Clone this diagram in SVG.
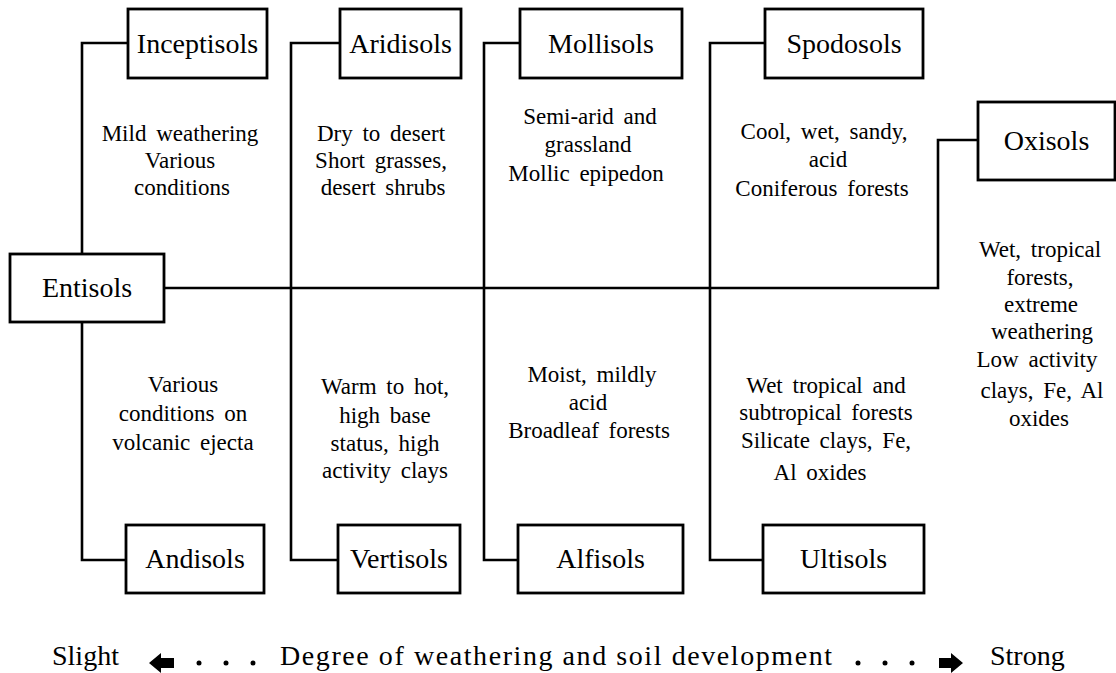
<svg xmlns="http://www.w3.org/2000/svg" width="1116" height="673" viewBox="0 0 1116 673">
<style>
.box{fill:#fff;stroke:#000;stroke-width:2.8}
.lbl{font-family:"Liberation Serif",serif;font-size:28px;text-anchor:middle;fill:#000}
.desc{font-family:"Liberation Serif",serif;font-size:23px;text-anchor:middle;fill:#000;word-spacing:4px}
.con{fill:none;stroke:#000;stroke-width:2.6}
.axis{font-family:"Liberation Serif",serif;font-size:28px;fill:#000}
</style>
<rect width="1116" height="673" fill="#fff"/>
<g id="connectors">
<path class="con" d="M128,43 H82 V254"/>
<path class="con" d="M82,322 V560 H126"/>
<path class="con" d="M340,43 H291 V560 H338"/>
<path class="con" d="M520,43 H484 V560 H518"/>
<path class="con" d="M765,43 H710 V560 H763"/>
<path class="con" d="M164,288 H938 V140 H978"/>
</g>
<g id="entisols"><rect class="box" x="10" y="254" width="154" height="68"/><text class="lbl" x="87" y="297">Entisols</text></g>
<g id="inceptisols"><rect class="box" x="128" y="9" width="139" height="69"/><text class="lbl" x="197.5" y="53">Inceptisols</text>
<text class="desc"><tspan x="180" y="141">Mild weathering</tspan><tspan x="180" y="168">Various</tspan><tspan x="182" y="195">conditions</tspan></text></g>
<g id="aridisols"><rect class="box" x="340" y="9" width="121" height="69"/><text class="lbl" x="400.5" y="53">Aridisols</text>
<text class="desc"><tspan x="381" y="141">Dry to desert</tspan><tspan x="381" y="168">Short grasses,</tspan><tspan x="383" y="195">desert shrubs</tspan></text></g>
<g id="mollisols"><rect class="box" x="520" y="9" width="162" height="69"/><text class="lbl" x="601" y="53">Mollisols</text>
<text class="desc"><tspan x="590" y="124">Semi-arid and</tspan><tspan x="588" y="152">grassland</tspan><tspan x="586" y="181">Mollic epipedon</tspan></text></g>
<g id="spodosols"><rect class="box" x="765" y="9" width="158" height="69"/><text class="lbl" x="844" y="53">Spodosols</text>
<text class="desc"><tspan x="824" y="139">Cool, wet, sandy,</tspan><tspan x="828" y="167">acid</tspan><tspan x="822" y="196">Coniferous forests</tspan></text></g>
<g id="oxisols"><rect class="box" x="978" y="102" width="137" height="78"/><text class="lbl" x="1046.5" y="150">Oxisols</text>
<text class="desc"><tspan x="1040" y="257">Wet, tropical</tspan><tspan x="1040" y="285">forests,</tspan><tspan x="1041" y="312">extreme</tspan><tspan x="1042" y="339">weathering</tspan><tspan x="1037" y="367">Low activity</tspan><tspan x="1042" y="398">clays, Fe, Al</tspan><tspan x="1039" y="426">oxides</tspan></text></g>
<g id="andisols"><rect class="box" x="126" y="525" width="138" height="68"/><text class="lbl" x="195" y="568">Andisols</text>
<text class="desc"><tspan x="183" y="392">Various</tspan><tspan x="183" y="421">conditions on</tspan><tspan x="183" y="450">volcanic ejecta</tspan></text></g>
<g id="vertisols"><rect class="box" x="338" y="525" width="122" height="68"/><text class="lbl" x="399" y="568">Vertisols</text>
<text class="desc"><tspan x="385" y="394">Warm to hot,</tspan><tspan x="385" y="423">high base</tspan><tspan x="385" y="451">status, high</tspan><tspan x="385" y="478">activity clays</tspan></text></g>
<g id="alfisols"><rect class="box" x="518" y="525" width="165" height="68"/><text class="lbl" x="600.5" y="568">Alfisols</text>
<text class="desc"><tspan x="592" y="382">Moist, mildly</tspan><tspan x="588" y="410">acid</tspan><tspan x="589" y="438">Broadleaf forests</tspan></text></g>
<g id="ultisols"><rect class="box" x="763" y="525" width="161" height="68"/><text class="lbl" x="843.5" y="568">Ultisols</text>
<text class="desc"><tspan x="826" y="393">Wet tropical and</tspan><tspan x="826" y="420">subtropical forests</tspan><tspan x="826" y="448">Silicate clays, Fe,</tspan><tspan x="820" y="480">Al oxides</tspan></text></g>
<g id="axis">
<text class="axis" x="52" y="665">Slight</text>
<path d="M149,663 L161,653 V658 H174 V668 H161 V673 Z" fill="#000"/>
<circle cx="199" cy="663" r="2.5"/><circle cx="226" cy="663" r="2.5"/><circle cx="253" cy="663" r="2.5"/>
<text class="axis" x="280" y="665" textLength="552" lengthAdjust="spacing">Degree of weathering and soil development</text>
<circle cx="858" cy="663" r="2.5"/><circle cx="885" cy="663" r="2.5"/><circle cx="912" cy="663" r="2.5"/>
<path d="M963,663 L951,653 V658 H939 V668 H951 V673 Z" fill="#000"/>
<text class="axis" x="990" y="665">Strong</text>
</g>
</svg>
